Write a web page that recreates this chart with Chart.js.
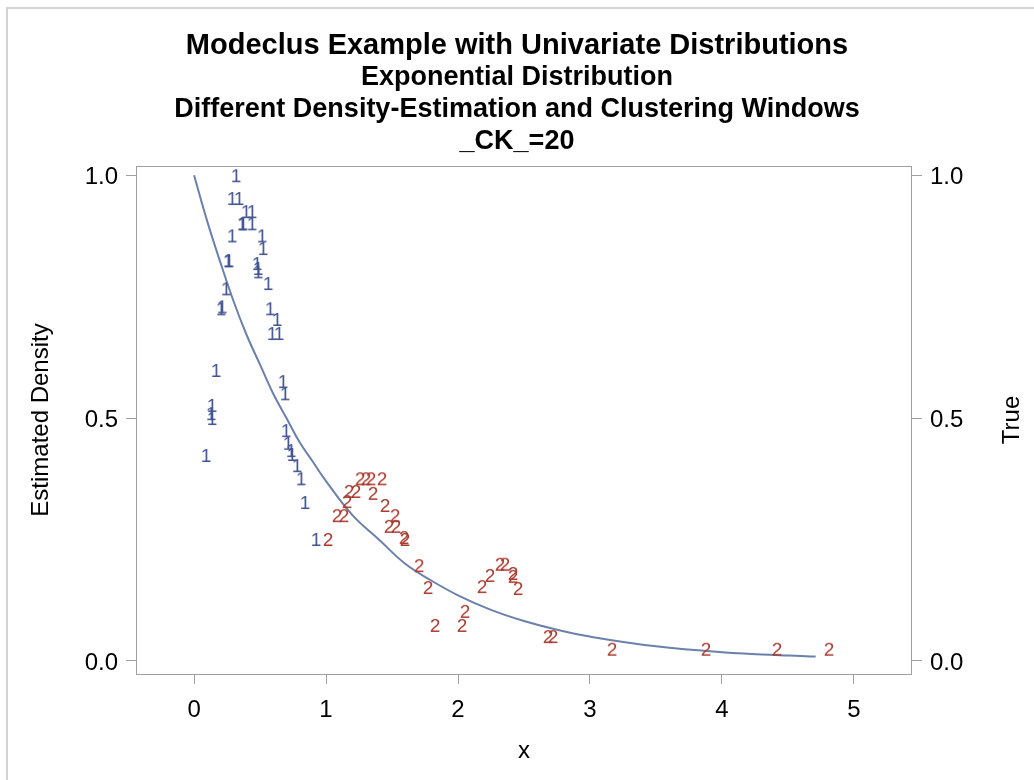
<!DOCTYPE html>
<html>
<head>
<meta charset="utf-8">
<script src="https://cdn.jsdelivr.net/npm/chart.js@4.4.1/dist/chart.umd.min.js"></script>
<style>
  html, body { margin: 0; padding: 0; background: #fff; overflow: hidden; }
  #frame { position: absolute; left: 6px; top: 7px; width: 1030px; height: 780px; border-left: 2px solid #d3d3d3; border-top: 2px solid #d3d3d3; }
  #chartCanvas { position: absolute; left: 0; top: 0; }
</style>
</head>
<body>
<div id="frame"></div>
<canvas id="chartCanvas" width="1034" height="780"></canvas>
<script>
// cluster 1 (x, estimated density)
const c1x = [0.318, 0.288, 0.341, 0.394, 0.439, 0.364, 0.371, 0.439, 0.288, 0.515, 0.523, 0.258, 0.265,
             0.477, 0.485, 0.485, 0.561, 0.242, 0.205, 0.212, 0.576, 0.629, 0.591, 0.644, 0.167, 0.674,
             0.689, 0.136, 0.136, 0.129, 0.091, 0.697, 0.712, 0.742, 0.735, 0.780, 0.811, 0.841, 0.924];
const c1y = [0.998, 0.951, 0.951, 0.924, 0.924, 0.899, 0.899, 0.899, 0.874, 0.874, 0.848, 0.823, 0.823,
             0.817, 0.807, 0.800, 0.776, 0.765, 0.724, 0.728, 0.724, 0.702, 0.673, 0.673, 0.597, 0.574,
             0.549, 0.525, 0.498, 0.508, 0.422, 0.473, 0.447, 0.424, 0.432, 0.401, 0.374, 0.325, 0.249];

// cluster 2
const c2x = [1.015, 1.258, 1.303, 1.341, 1.424, 1.174, 1.227, 1.356, 1.159, 1.083, 1.136, 1.447, 1.523,
             1.477, 1.530, 1.598, 1.591, 1.705, 1.773, 1.826, 2.053, 2.030, 2.182, 2.242, 2.318, 2.356,
             2.417, 2.417, 2.455, 2.682, 2.720, 3.167, 3.879, 4.417, 4.811];
const c2y = [0.249, 0.374, 0.374, 0.374, 0.374, 0.348, 0.348, 0.344, 0.327, 0.298, 0.298, 0.319, 0.298,
             0.276, 0.276, 0.249, 0.253, 0.195, 0.150, 0.072, 0.101, 0.072, 0.152, 0.175, 0.198, 0.198,
             0.173, 0.179, 0.148, 0.049, 0.049, 0.023, 0.023, 0.023, 0.023];

// true density curve
const curveX = [0, 0.1, 0.2, 0.3, 0.4, 0.5, 0.6, 0.7, 0.8, 0.9, 1.0, 1.2, 1.4, 1.6, 1.8, 2.0,
                2.25, 2.5, 2.75, 3.0, 3.5, 4.0, 4.5, 4.71];
const curveY = [1.0, 0.905, 0.82, 0.74, 0.67, 0.61, 0.55, 0.50, 0.45, 0.41, 0.37, 0.30, 0.25, 0.20, 0.165, 0.135,
                0.105, 0.082, 0.064, 0.05, 0.03, 0.018, 0.011, 0.009];

const xTicks = [0, 1, 2, 3, 4, 5];
const yTicks = [0, 0.5, 1];

const blue = '#41548f';
const red = '#a83a2e';
const axisGray = '#a0a0a0';
const fontFamily = '"Liberation Sans", Arial, Helvetica, sans-serif';

function textMarker(txt, color) {
    const c = document.createElement('canvas');
    c.width = 14;
    c.height = 22;
    const g = c.getContext('2d');
    g.fillStyle = color;
    g.font = '19px ' + fontFamily;
    g.textAlign = 'center';
    g.textBaseline = 'middle';
    g.fillText(txt, 7, 12);
    return c;
}

const toPoints = (xs, ys) => xs.map((x, i) => ({ x: x, y: ys[i] }));

// plot box + rotated right-hand title
const framePlugin = {
    id: 'frame',
    afterDraw(chart) {
        const { ctx, chartArea: a } = chart;
        ctx.save();
        ctx.strokeStyle = axisGray;
        ctx.lineWidth = 1;
        ctx.strokeRect(a.left + 0.5, a.top + 0.5, a.right - a.left - 1, a.bottom - a.top);
        ctx.fillStyle = '#000';
        ctx.font = '24px ' + fontFamily;
        ctx.textAlign = 'center';
        ctx.textBaseline = 'middle';
        ctx.translate(1012, (a.top + a.bottom) / 2);
        ctx.rotate(-Math.PI / 2);
        ctx.fillText('True', 0, 0);
        ctx.restore();
    }
};

const tickFont = { family: fontFamily, size: 24 };

new Chart(document.getElementById('chartCanvas').getContext('2d'), {
    type: 'scatter',
    data: {
        datasets: [
            {
                label: '1',
                data: toPoints(c1x, c1y),
                pointStyle: textMarker('1', blue),
                pointRadius: 8
            },
            {
                label: '2',
                data: toPoints(c2x, c2y),
                pointStyle: textMarker('2', red),
                pointRadius: 8
            },
            {
                label: 'True',
                type: 'line',
                data: toPoints(curveX, curveY),
                yAxisID: 'y2',
                borderColor: '#6b80ab',
                borderWidth: 2,
                pointRadius: 0,
                tension: 0.4,
                fill: false
            }
        ]
    },
    options: {
        responsive: false,
        animation: false,
        devicePixelRatio: 1,
        layout: { padding: 0 },
        plugins: {
            legend: { display: false },
            tooltip: { enabled: false },
            title: {
                display: true,
                text: 'Modeclus Example with Univariate Distributions',
                color: '#000',
                font: { family: fontFamily, size: 29, weight: 'bold', lineHeight: '32px' },
                padding: { top: 30, bottom: 0 }
            },
            subtitle: {
                display: true,
                text: ['Exponential Distribution', 'Different Density-Estimation and Clustering Windows', '_CK_=20'],
                color: '#000',
                font: { family: fontFamily, size: 27, weight: 'bold', lineHeight: '32px' },
                padding: { top: 0, bottom: 8 }
            }
        },
        scales: {
            x: {
                type: 'linear',
                min: -0.44,
                max: 5.44,
                afterFit(s) { s.height = 106; },
                afterBuildTicks(s) { s.ticks = xTicks.map(v => ({ value: v })); },
                border: { display: false },
                grid: { drawOnChartArea: false, drawTicks: true, tickLength: 10, color: axisGray },
                ticks: { color: '#000', font: tickFont, padding: 12, maxRotation: 0 },
                title: { display: true, text: 'x', color: '#000', font: { family: fontFamily, size: 24 }, padding: { bottom: 14 } }
            },
            y: {
                type: 'linear',
                position: 'left',
                min: -0.027,
                max: 1.019,
                afterFit(s) { s.width = 136; },
                afterBuildTicks(s) { s.ticks = yTicks.map(v => ({ value: v })); },
                border: { display: false },
                grid: { drawOnChartArea: false, drawTicks: true, tickLength: 10, color: axisGray },
                ticks: { color: '#000', font: tickFont, padding: 8, labelOffset: 2, callback: v => v.toFixed(1) },
                title: { display: true, text: 'Estimated Density', color: '#000', font: { family: fontFamily, size: 24 }, padding: { top: 27 } }
            },
            y2: {
                type: 'linear',
                position: 'right',
                min: -0.027,
                max: 1.019,
                afterFit(s) { s.width = 122; },
                afterBuildTicks(s) { s.ticks = yTicks.map(v => ({ value: v })); },
                border: { display: false },
                grid: { drawOnChartArea: false, drawTicks: true, tickLength: 10, color: axisGray },
                ticks: { color: '#000', font: tickFont, padding: 8, labelOffset: 2, callback: v => v.toFixed(1) },
                title: { display: false }
            }
        }
    },
    plugins: [framePlugin]
});
</script>
</body>
</html>
